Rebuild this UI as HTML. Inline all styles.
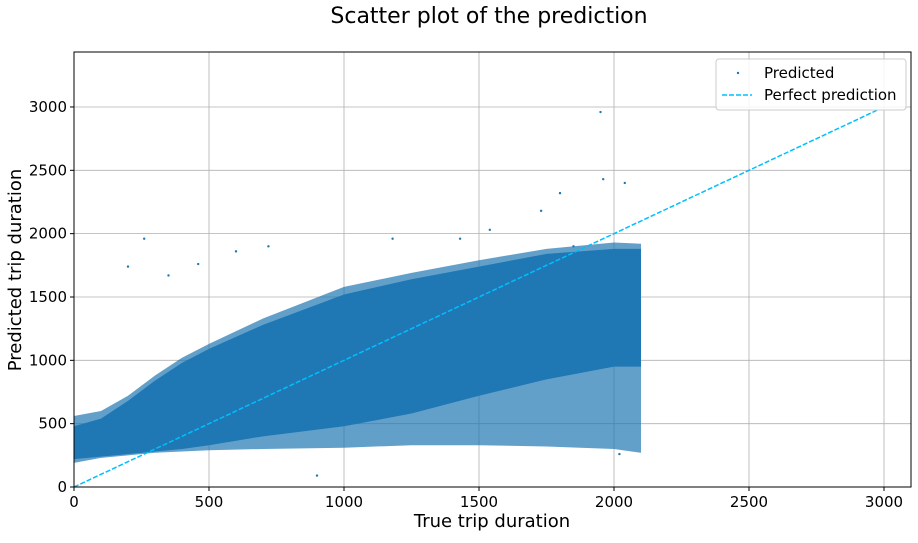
<!DOCTYPE html>
<html><head><meta charset="utf-8"><style>
body{margin:0;background:#fff;}
svg text{font-family:"DejaVu Sans","Liberation Sans",sans-serif;fill:#000;}
</style></head><body>
<svg id="chart" width="918" height="538" xmlns="http://www.w3.org/2000/svg">
<text x="489" y="23" font-size="22" text-anchor="middle">Scatter plot of the prediction</text>
<g id="grid"></g>
<g id="marks"></g>
<rect x="74" y="52" width="837" height="435" fill="none" stroke="#000" stroke-width="1"/>
<g id="ticks"></g>
<text x="492" y="527" font-size="18" text-anchor="middle">True trip duration</text>
<text transform="translate(21,270) rotate(-90)" font-size="18" text-anchor="middle">Predicted trip duration</text>
<g>
<rect x="716" y="59" width="190" height="51" rx="3" fill="#fff" fill-opacity="0.85" stroke="#ccc"/>
<circle cx="738" cy="73" r="1.2" fill="#1f77b4"/>
<text x="764" y="78" font-size="15">Predicted</text>
<line x1="722" y1="95" x2="752" y2="95" stroke="#00bfff" stroke-width="1.5" stroke-dasharray="5,2"/>
<text x="764" y="100" font-size="15">Perfect prediction</text>
</g>
</svg>
<script>
const xTicks=[0,500,1000,1500,2000,2500,3000];
const yTicks=[0,500,1000,1500,2000,2500,3000];
const bandX=[0,100,200,300,400,500,700,1000,1250,1500,1750,2000,2100];
const outerUpper=[560,600,720,880,1020,1130,1330,1580,1690,1790,1880,1930,1920];
const outerLower=[190,230,250,270,280,290,300,310,330,330,320,300,270];
const coreUpper=[480,540,680,840,980,1090,1280,1520,1640,1740,1840,1880,1880];
const coreLower=[220,240,260,280,300,330,400,480,580,720,850,950,950];
const outX=[1950,1960,2040,1800,1730,1180,350,460,260,200,600,720,900,2020,1430,1540,1850];
const outY=[2960,2430,2400,2320,2180,1960,1670,1760,1960,1740,1860,1900,90,260,1960,2030,1900];
const perfect=[0,2980];
const X0=74,X1=911,XMAX=3100,Y0=487,Y1=52,YMAX=3434;
const sx=v=>X0+v/XMAX*(X1-X0), sy=v=>Y0-v/YMAX*(Y0-Y1);
const NS="http://www.w3.org/2000/svg";
function mk(t,a,p){const e=document.createElementNS(NS,t);for(const k in a)e.setAttribute(k,a[k]);p.appendChild(e);return e;}
const grid=document.getElementById('grid'),marks=document.getElementById('marks'),ticks=document.getElementById('ticks');
xTicks.forEach(v=>{const g=mk('line',{x1:sx(v),x2:sx(v),y1:Y1,y2:Y0,stroke:'#b0b0b0','stroke-width':0.8},grid);


mk('line',{x1:sx(v),x2:sx(v),y1:Y0,y2:Y0+4,stroke:'#000'},ticks);
const t=mk('text',{x:sx(v),y:Y0+20,'font-size':15,'text-anchor':'middle'},ticks);t.textContent=v;

});
yTicks.forEach(v=>{const g=mk('line',{x1:X0,x2:X1,y1:sy(v),y2:sy(v),stroke:'#b0b0b0','stroke-width':0.8},grid);


mk('line',{x1:X0-4,x2:X0,y1:sy(v),y2:sy(v),stroke:'#000'},ticks);
const t=mk('text',{x:X0-7,y:sy(v)+5,'font-size':15,'text-anchor':'end'},ticks);t.textContent=v;

});
function poly(up,lo){let p=bandX.map((x,i)=>sx(x)+','+sy(up[i]));for(let i=bandX.length-1;i>=0;i--)p.push(sx(bandX[i])+','+sy(lo[i]));return p.join(' ');}
const o=mk('polygon',{points:poly(outerUpper,outerLower),fill:'#1f77b4','fill-opacity':0.7},marks);


const c=mk('polygon',{points:poly(coreUpper,coreLower),fill:'#1f77b4'},marks);


outX.forEach((x,i)=>{const p=mk('circle',{cx:sx(x),cy:sy(outY[i]),r:1.2,fill:'#1f77b4'},marks);

});
const l=mk('line',{x1:sx(perfect[0]),y1:sy(perfect[0]),x2:sx(perfect[1]),y2:sy(perfect[1]),stroke:'#00bfff','stroke-width':1.5,'stroke-dasharray':'5,2'},marks);


</script>
</body></html>
